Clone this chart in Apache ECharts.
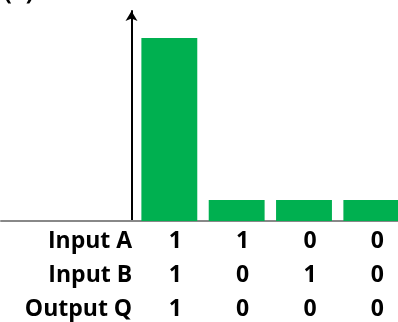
<!DOCTYPE html>
<html>
<head>
<meta charset="utf-8">
<script src="https://cdn.jsdelivr.net/npm/echarts@6/dist/echarts.min.js"></script>
<style>
html,body{margin:0;padding:0;background:#fff;}
#chart{width:398px;height:322px;}
</style>
</head>
<body>
<div id="chart"></div>
<script>
// Truth-table rows (one column per bar)
const rowNames = ['Input A', 'Input B', 'Output Q'];
const inputA = [1, 1, 0, 0];
const inputB = [1, 0, 1, 0];
const outputQ = [1, 0, 0, 0];
// Bar heights (output level, arbitrary units)
const outputLevel = [1, 0.115, 0.115, 0.115];
const panelLabel = '(a)';

// two leading empty slots hold the row-name column
const categories = ['names', 'blank', 'c0', 'c1', 'c2', 'c3'];
const barData = [null, null].concat(outputLevel);

const chart = echarts.init(document.getElementById('chart'), null, {renderer: 'canvas'});
const font = '"Open Sans", "Liberation Sans", sans-serif';
const fs = 23, lh = 33.7;

chart.setOption({
  animation: false,
  title: {
    text: panelLabel, left: -1, top: -23,
    textStyle: {fontFamily: font, fontWeight: 'bold', fontSize: fs, color: '#000'}
  },
  grid: {left: 1, right: -7, top: 11, bottom: 101, containLabel: false, outerBoundsMode: 'none'},
  xAxis: {
    type: 'category',
    data: categories,
    axisLine: {show: true, lineStyle: {color: '#888', width: 2}},
    axisTick: {show: false},
    axisLabel: {
      interval: 0,
      hideOverlap: false,
      margin: 4,
      fontFamily: font, fontWeight: 'bold', fontSize: fs, color: '#000',
      lineHeight: lh,
      formatter: function (v, i) {
        if (i === 0) {
          return rowNames.map(function (n) { return '{h|' + n + '}'; }).join('\n');
        }
        if (i === 1) return '';
        const k = i - 2;
        return '{v|' + inputA[k] + '}\n{v|' + inputB[k] + '}\n{v|' + outputQ[k] + '}';
      },
      rich: {
        h: {width: 195, align: 'right', fontFamily: font, fontWeight: 'bold', fontSize: fs, lineHeight: lh, color: '#000'},
        v: {padding: [0, 0, 0, 12], fontFamily: font, fontWeight: 'bold', fontSize: fs, lineHeight: lh, color: '#000'}
      }
    }
  },
  yAxis: {
    type: 'value',
    min: 0,
    max: 1.148,
    offset: -130.5,
    axisLine: {show: true, symbol: ['none', 'arrow'], symbolSize: [9, 10], lineStyle: {color: '#000', width: 2}},
    axisTick: {show: false},
    axisLabel: {show: false},
    splitLine: {show: false}
  },
  series: [{
    type: 'bar',
    data: barData,
    barCategoryGap: '17%',
    itemStyle: {color: '#00B050'}
  }]
});
</script>
</body>
</html>
